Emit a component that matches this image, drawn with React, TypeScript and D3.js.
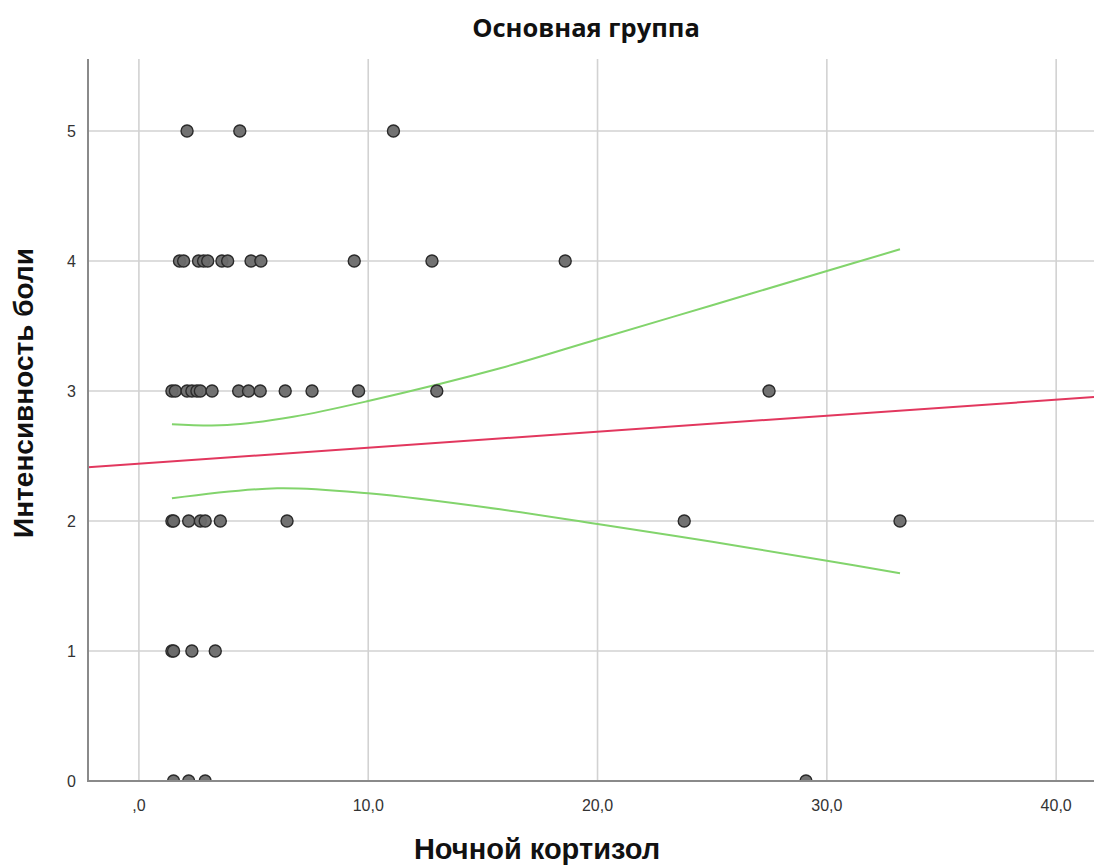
import React from "react";
import * as d3 from "d3";

// Scatter data: [Ночной кортизол, Интенсивность боли]
const pain5: number[] = [2.1, 4.4, 11.1];
const pain4: number[] = [1.77, 1.95, 2.6, 2.82, 3.0, 3.62, 3.87, 4.89, 5.32, 9.39, 12.78, 18.59];
const pain3: number[] = [1.44, 1.59, 2.1, 2.31, 2.53, 2.68, 3.19, 4.35, 4.78, 5.29, 6.38, 7.55, 9.58, 12.99, 27.48];
const pain2: number[] = [1.44, 1.51, 2.17, 2.68, 2.89, 3.55, 6.46, 23.78, 33.19];
const pain1: number[] = [1.44, 1.51, 2.31, 3.33];
const pain0: number[] = [1.51, 2.17, 2.89, 29.09];

// Fit line
const fitIntercept = 2.441;
const fitSlope = 0.0123;

// Confidence band
const ciUpper: [number, number][] = [
  [1.44, 2.745], [3.85, 2.738], [6.73, 2.802], [10.0, 2.923], [15.75, 3.175],
  [20.0, 3.398], [25.0, 3.66], [30.0, 3.923], [33.19, 4.09],
];
const ciLower: [number, number][] = [
  [1.44, 2.175], [6.03, 2.252], [10.0, 2.213], [15.75, 2.09], [20.0, 1.977],
  [25.0, 1.84], [30.0, 1.695], [33.19, 1.598],
];

const xTicks = [0, 10, 20, 30, 40];
const xTickLabels = [",0", "10,0", "20,0", "30,0", "40,0"];
const yTicks = [0, 1, 2, 3, 4, 5];

const title = "Основная группа";
const xTitle = "Ночной кортизол";
const yTitle = "Интенсивность боли";

export default function App() {
  const W = 1094, H = 868;
  const left = 88, right = 1094, top = 59, bottom = 781;
  const x = d3.scaleLinear().domain([-2.22, 41.65]).range([left, right]);
  const y = d3.scaleLinear().domain([0, 5.554]).range([bottom, top]);

  const points: [number, number][] = [
    ...pain5.map((v) => [v, 5] as [number, number]),
    ...pain4.map((v) => [v, 4] as [number, number]),
    ...pain3.map((v) => [v, 3] as [number, number]),
    ...pain2.map((v) => [v, 2] as [number, number]),
    ...pain1.map((v) => [v, 1] as [number, number]),
    ...pain0.map((v) => [v, 0] as [number, number]),
  ];

  const curve = d3
    .line<[number, number]>()
    .x((d) => x(d[0]))
    .y((d) => y(d[1]))
    .curve(d3.curveCatmullRom.alpha(0.5));

  const x0 = x.domain()[0], x1 = x.domain()[1];
  const fitLine = d3.line<[number, number]>().x((d) => x(d[0])).y((d) => y(d[1]))([
    [x0, fitIntercept + fitSlope * x0],
    [x1, fitIntercept + fitSlope * x1],
  ]);

  return (
    <svg
      width={W}
      height={H}
      style={{ position: "absolute", left: 0, top: 0, background: "#fff" }}
    >
      <defs>
        <clipPath id="plotClip">
          <rect x={left} y={top} width={right - left} height={bottom - top} />
        </clipPath>
      </defs>
      {/* grid */}
      {xTicks.map((t) => (
        <line key={"gx" + t} x1={x(t)} x2={x(t)} y1={top} y2={bottom} stroke="#d2d2d2" strokeWidth={1.6} />
      ))}
      {yTicks.map((t) => (
        <line key={"gy" + t} x1={left} x2={right} y1={y(t)} y2={y(t)} stroke="#d2d2d2" strokeWidth={1.6} />
      ))}
      <g clipPath="url(#plotClip)">
        <path d={fitLine ?? ""} fill="none" stroke="#e2375e" strokeWidth={2} />
        <path d={curve(ciUpper) ?? ""} fill="none" stroke="#82d46c" strokeWidth={2} />
        <path d={curve(ciLower) ?? ""} fill="none" stroke="#82d46c" strokeWidth={2} />
        {points.map((p, i) => (
          <circle
            key={i}
            cx={x(p[0])}
            cy={y(p[1])}
            r={6}
            fill="#6a6a6a"
            fillOpacity={0.95}
            stroke="#2a2a2a"
            strokeWidth={1.4}
          />
        ))}
      </g>
      {/* axes */}
      <line x1={left} x2={left} y1={top} y2={bottom + 1} stroke="#8a8a8a" strokeWidth={2} />
      <line x1={left} x2={right} y1={bottom} y2={bottom} stroke="#8a8a8a" strokeWidth={2} />
      {yTicks.map((t) => (
        <text
          key={"ty" + t}
          x={76}
          y={y(t)}
          dy="0.35em"
          textAnchor="end"
          fontFamily="Liberation Sans, Arial, sans-serif"
          fontSize={16}
          fill="#333"
        >
          {t}
        </text>
      ))}
      {xTicks.map((t, i) => (
        <text
          key={"tx" + t}
          x={x(t)}
          y={811}
          textAnchor="middle"
          fontFamily="Liberation Sans, Arial, sans-serif"
          fontSize={16}
          fill="#333"
        >
          {xTickLabels[i]}
        </text>
      ))}
      <text
        x={586}
        y={37}
        textAnchor="middle"
        fontFamily="Open Sans, sans-serif"
        fontWeight="bold"
        fontSize={25.5}
        fill="#111"
      >
        {title}
      </text>
      <text
        x={537}
        y={859}
        textAnchor="middle"
        fontFamily="Liberation Sans, Arial, sans-serif"
        fontWeight="bold"
        fontSize={29}
        fill="#111"
      >
        {xTitle}
      </text>
      <text
        transform={`translate(33, ${393}) rotate(-90)`}
        textAnchor="middle"
        fontFamily="Liberation Sans, Arial, sans-serif"
        fontWeight="bold"
        fontSize={28}
        fill="#111"
      >
        {yTitle}
      </text>
    </svg>
  );
}
